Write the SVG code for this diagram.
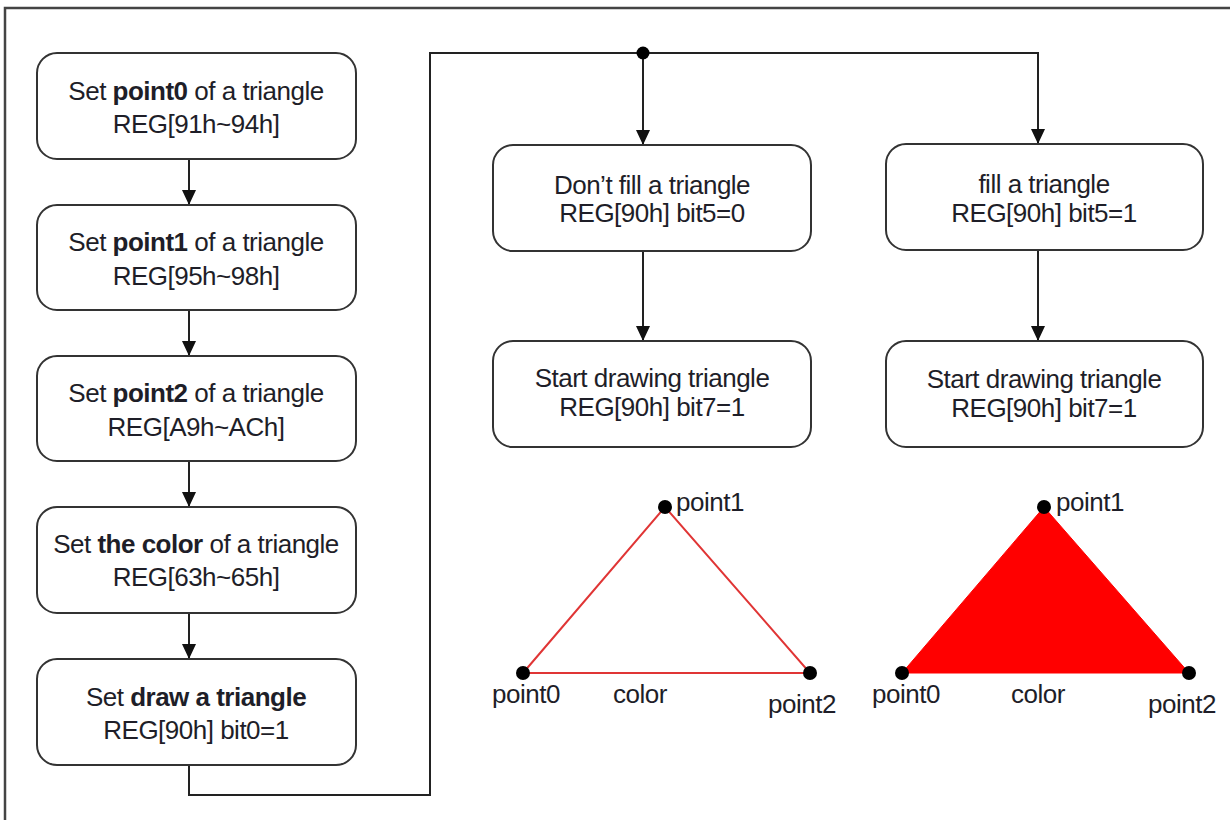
<svg xmlns="http://www.w3.org/2000/svg" width="1230" height="820" viewBox="0 0 1230 820">
<style>
.box{fill:#fff;stroke:#333;stroke-width:2}
.t{font-family:"Liberation Sans",Arial,sans-serif;font-size:26px;letter-spacing:-0.5px;fill:#1e1e28;text-anchor:middle}
.l{font-family:"Liberation Sans",Arial,sans-serif;font-size:26px;letter-spacing:-0.5px;fill:#1e1e28}
.b{font-weight:bold}
.c{fill:none;stroke:#222;stroke-width:2}
.dot{fill:#000}
</style>
<defs>
<marker id="arr" markerWidth="15" markerHeight="14" refX="15" refY="7" orient="auto" markerUnits="userSpaceOnUse">
<path d="M0,0 L15,7 L0,14 Z" fill="#111"/>
</marker>
</defs>
<rect width="1230" height="820" fill="#fff"/>
<path d="M5,830 V8 H1240" fill="none" stroke="#444" stroke-width="2.5"/>

<g id="connectors">
<path class="c" d="M189,159 V205" marker-end="url(#arr)"/>
<path class="c" d="M189,310 V356" marker-end="url(#arr)"/>
<path class="c" d="M189,461 V507" marker-end="url(#arr)"/>
<path class="c" d="M189,613 V659" marker-end="url(#arr)"/>
<path class="c" d="M189,765 V795 H430 V53 H1038 V144" marker-end="url(#arr)"/>
<path class="c" d="M643,53 V145" marker-end="url(#arr)"/>
<circle class="dot" cx="643" cy="53" r="6.5"/>
<path class="c" d="M643,251 V341" marker-end="url(#arr)"/>
<path class="c" d="M1038,250 V341" marker-end="url(#arr)"/>
</g>

<g id="n1">
<rect class="box" x="37" y="53" width="319" height="106" rx="20"/>
<text class="t" x="196" y="100">Set <tspan class="b">point0</tspan> of a triangle</text>
<text class="t" x="196" y="133">REG[91h~94h]</text>
</g>
<g id="n2">
<rect class="box" x="37" y="205" width="319" height="105" rx="20"/>
<text class="t" x="196" y="251">Set <tspan class="b">point1</tspan> of a triangle</text>
<text class="t" x="196" y="285">REG[95h~98h]</text>
</g>
<g id="n3">
<rect class="box" x="37" y="356" width="319" height="105" rx="20"/>
<text class="t" x="196" y="402">Set <tspan class="b">point2</tspan> of a triangle</text>
<text class="t" x="196" y="436">REG[A9h~ACh]</text>
</g>
<g id="n4">
<rect class="box" x="37" y="507" width="319" height="106" rx="20"/>
<text class="t" x="196" y="553">Set <tspan class="b">the color</tspan> of a triangle</text>
<text class="t" x="196" y="586">REG[63h~65h]</text>
</g>
<g id="n5">
<rect class="box" x="37" y="659" width="319" height="106" rx="20"/>
<text class="t" x="196" y="706">Set <tspan class="b">draw a triangle</tspan></text>
<text class="t" x="196" y="739">REG[90h] bit0=1</text>
</g>

<g id="n6">
<rect class="box" x="493" y="145" width="318" height="106" rx="20"/>
<text class="t" x="652" y="194">Don’t fill a triangle</text>
<text class="t" x="652" y="222">REG[90h] bit5=0</text>
</g>
<g id="n7">
<rect class="box" x="886" y="144" width="317" height="106" rx="20"/>
<text class="t" x="1044" y="193">fill a triangle</text>
<text class="t" x="1044" y="222">REG[90h] bit5=1</text>
</g>
<g id="n8">
<rect class="box" x="493" y="341" width="318" height="106" rx="20"/>
<text class="t" x="652" y="387">Start drawing triangle</text>
<text class="t" x="652" y="416">REG[90h] bit7=1</text>
</g>
<g id="n9">
<rect class="box" x="886" y="341" width="317" height="106" rx="20"/>
<text class="t" x="1044" y="388">Start drawing triangle</text>
<text class="t" x="1044" y="417">REG[90h] bit7=1</text>
</g>

<g id="tri-outline">
<polygon points="523,673 665,507 810,673" fill="none" stroke="#e03535" stroke-width="2"/>
<circle class="dot" cx="523" cy="673" r="7"/>
<circle class="dot" cx="665" cy="507" r="7"/>
<circle class="dot" cx="810" cy="673" r="7"/>
<text class="l" x="676" y="511">point1</text>
<text class="l" x="492" y="703">point0</text>
<text class="l" x="613" y="703">color</text>
<text class="l" x="768" y="713">point2</text>
</g>

<g id="tri-filled">
<polygon points="902,673 1044,507 1189,673" fill="#f00" stroke="#f00" stroke-width="1"/>
<circle class="dot" cx="902" cy="673" r="7"/>
<circle class="dot" cx="1044" cy="507" r="7"/>
<circle class="dot" cx="1189" cy="673" r="7"/>
<text class="l" x="1056" y="511">point1</text>
<text class="l" x="872" y="703">point0</text>
<text class="l" x="1011" y="703">color</text>
<text class="l" x="1148" y="713">point2</text>
</g>
</svg>
